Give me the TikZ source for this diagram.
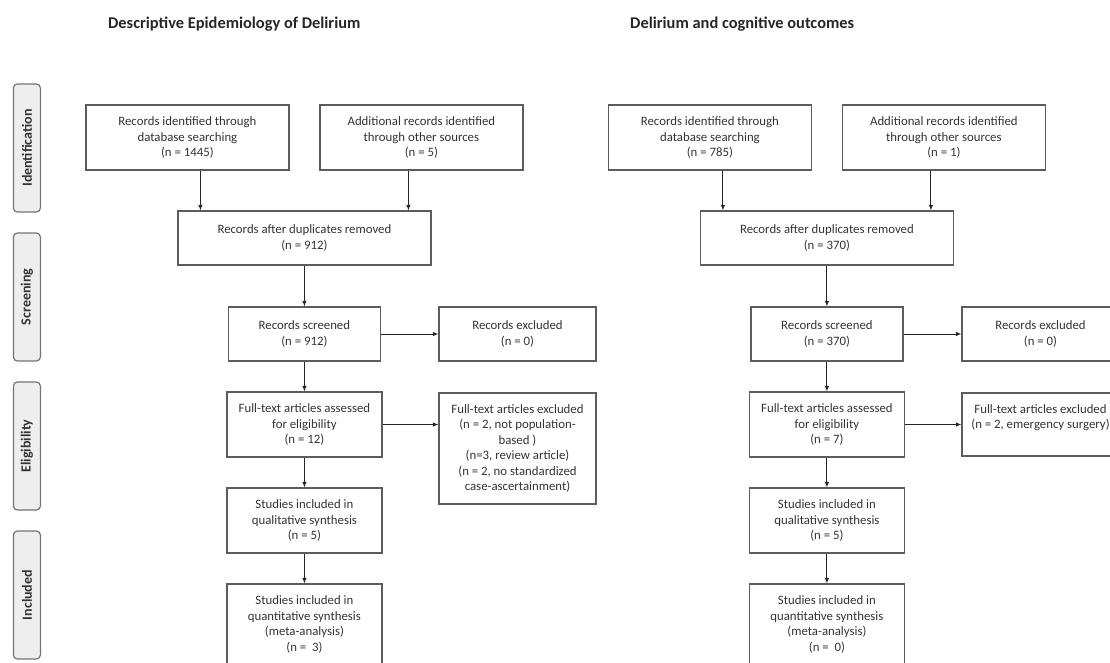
\documentclass[tikz,border=0pt]{standalone}
\usepackage{fontspec}
\setmainfont{Carlito}
\usetikzlibrary{arrows.meta}

\definecolor{boxgray}{HTML}{5C5C5C}
\definecolor{textgray}{HTML}{333333}
\definecolor{sidefill}{HTML}{EEEEEE}

\tikzset{
  prisma/.style={draw=boxgray, line width=1.2pt, text=textgray, align=center,
    inner sep=2pt, font=\fontsize{12.8}{15.4}\selectfont},
  srcbox/.style={prisma, minimum width=203pt, minimum height=65pt},
  dupbox/.style={prisma, minimum width=253pt, minimum height=54pt},
  midbox/.style={prisma, minimum width=155pt, minimum height=65pt},
  exclbox/.style={prisma, minimum width=157pt, minimum height=54pt},
  sidelabel/.style={draw=boxgray!85, fill=sidefill, rounded corners=4pt,
    line width=1.2pt, rotate=90, minimum width=128pt, minimum height=27pt,
    inner sep=0pt, text=textgray, font=\fontsize{14}{16}\selectfont\bfseries},
  heading/.style={anchor=base west, text=black!85,
    font=\fontsize{16.4}{19}\selectfont\bfseries},
  flow/.style={-{Latex[length=5.5pt,width=4.5pt]}, line width=0.9pt, draw=black!85},
}

\begin{document}
\begin{tikzpicture}[x=1pt, y=-1pt]

  \useasboundingbox (0,0) rectangle (1110,663);
  \clip (0,0) rectangle (1110,663);

  % phase labels on the left
  \foreach \phase/\yc in {Identification/148, Screening/297, Eligibility/446, Included/595} {
    \node[sidelabel] (side-\phase) at (26.9,\yc) {\phase};
  }

  % headings
  \node[heading] (head1) at (104.6,28.7) {Descriptive Epidemiology of Delirium};
  \node[heading] (head2) at (626.7,28.7) {Delirium and cognitive outcomes};

  % left flow
  \node[srcbox] (db1) at (187.4,137.5) {Records identified through\\database searching\\(n = 1445)};
  \node[srcbox] (other1) at (421.4,137.5) {Additional records identified\\through other sources\\(n = 5)};
  \node[dupbox] (dup1) at (304.4,238) {Records after duplicates removed\\(n = 912)};
  \node[exclbox, minimum width=152pt] (scr1) at (304.4,334) {Records screened\\(n = 912)};
  \node[exclbox] (exc1) at (517.5,334) {Records excluded\\(n = 0)};
  \node[midbox] (full1) at (304.4,424.5) {Full-text articles assessed\\for eligibility\\(n = 12)};
  \node[prisma, minimum width=157pt, minimum height=111pt] (fexc1) at (517.5,448.5)
    {Full-text articles excluded\\(n = 2, not population-\\based )\\(n=3, review article)\\(n = 2, no standardized\\case-ascertainment)};
  \node[midbox] (qual1) at (304.4,520.5) {Studies included in\\qualitative synthesis\\(n = 5)};
  \node[midbox, minimum height=81pt] (quant1) at (304.4,624.5) {Studies included in\\quantitative synthesis\\(meta-analysis)\\(n =~ 3)};

  \draw[flow] ([xshift=13pt]db1.south) -- ([xshift=13pt]db1.south |- dup1.north);
  \draw[flow] ([xshift=-13pt]other1.south) -- ([xshift=-13pt]other1.south |- dup1.north);
  \draw[flow] (dup1) -- (scr1);
  \draw[flow] (scr1) -- (exc1);
  \draw[flow] (scr1) -- (full1);
  \draw[flow] (full1.east) -- (full1.east -| fexc1.west);
  \draw[flow] (full1) -- (qual1);
  \draw[flow] (qual1) -- (quant1);

  % right flow
  \node[srcbox] (db2) at (709.9,137.5) {Records identified through\\database searching\\(n = 785)};
  \node[srcbox] (other2) at (943.9,137.5) {Additional records identified\\through other sources\\(n = 1)};
  \node[dupbox] (dup2) at (826.9,238) {Records after duplicates removed\\(n = 370)};
  \node[exclbox, minimum width=152pt] (scr2) at (826.9,334) {Records screened\\(n = 370)};
  \node[exclbox] (exc2) at (1040.5,334) {Records excluded\\(n = 0)};
  \node[midbox] (full2) at (826.9,424.5) {Full-text articles assessed\\for eligibility\\(n = 7)};
  \node[prisma, minimum width=157pt, minimum height=63pt] (fexc2) at (1040.5,424.5)
    {Full-text articles excluded\\(n = 2, emergency surgery)\\~};
  \node[midbox] (qual2) at (826.9,520.5) {Studies included in\\qualitative synthesis\\(n = 5)};
  \node[midbox, minimum height=81pt] (quant2) at (826.9,624.5) {Studies included in\\quantitative synthesis\\(meta-analysis)\\(n =~ 0)};

  \draw[flow] ([xshift=13pt]db2.south) -- ([xshift=13pt]db2.south |- dup2.north);
  \draw[flow] ([xshift=-13pt]other2.south) -- ([xshift=-13pt]other2.south |- dup2.north);
  \draw[flow] (dup2) -- (scr2);
  \draw[flow] (scr2) -- (exc2);
  \draw[flow] (scr2) -- (full2);
  \draw[flow] (full2.east) -- (full2.east -| fexc2.west);
  \draw[flow] (full2) -- (qual2);
  \draw[flow] (qual2) -- (quant2);
\end{tikzpicture}
\end{document}
